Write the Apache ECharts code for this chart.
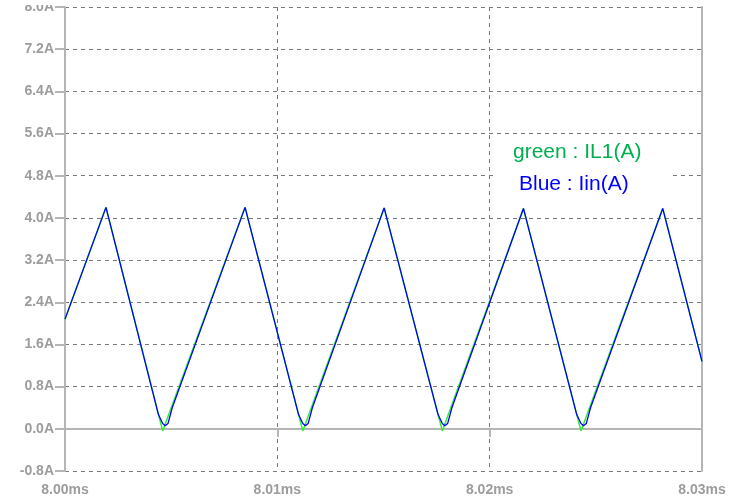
<!DOCTYPE html>
<html>
<head>
<meta charset="utf-8">
<script src="https://cdn.jsdelivr.net/npm/echarts@6/dist/echarts.min.js"></script>
<style>
  html, body { margin: 0; padding: 0; background: #fff; }
  #chart { width: 751px; height: 499px; }
</style>
</head>
<body>
<div id="chart"></div>
<script>
// Inductor current IL1 (green) and input current Iin (blue), time in ms, current in A
const il1Time = [8.00000, 8.00193, 8.00460, 8.00848, 8.01120, 8.01503, 8.01777, 8.02159, 8.02430, 8.02815, 8.03000];
const il1Amps = [2.08, 4.20, -0.04, 4.20, -0.04, 4.19, -0.04, 4.18, -0.04, 4.18, 1.28];

const iinTime = [8.00000, 8.00193,
  8.00440, 8.00460, 8.00472, 8.00485, 8.00505, 8.00848,
  8.01100, 8.01120, 8.01132, 8.01145, 8.01165, 8.01503,
  8.01757, 8.01777, 8.01789, 8.01802, 8.01822, 8.02159,
  8.02410, 8.02430, 8.02442, 8.02455, 8.02475, 8.02815, 8.03000];
const iinAmps = [2.08, 4.20,
  0.27, 0.10, 0.06, 0.10, 0.40, 4.20,
  0.27, 0.10, 0.06, 0.10, 0.40, 4.19,
  0.27, 0.10, 0.06, 0.10, 0.40, 4.18,
  0.27, 0.10, 0.06, 0.10, 0.40, 4.18, 1.28];

const legendLines = ['green : IL1(A)', 'Blue : Iin(A)'];

const pair = (xs, ys) => xs.map((x, i) => [x, ys[i]]);

const gray = '#b5b5b5';
const labelGray = '#9c9c9c';
const gridDash = { color: '#7a7a7a', type: [4, 4], width: 1 };
const labelFont = { color: labelGray, fontFamily: 'Liberation Sans, Arial, sans-serif', fontWeight: 'bold', fontSize: 14 };
const legendFont = '21px "Liberation Sans", Arial, sans-serif';

const chart = echarts.init(document.getElementById('chart'));
chart.setOption({
  animation: false,
  backgroundColor: '#fff',
  grid: { left: 65, right: 49, top: 7, bottom: 28 },
  xAxis: {
    type: 'value',
    min: 8.00, max: 8.03, interval: 0.01,
    axisLine: { show: true, lineStyle: { color: gray, width: 2 } },
    axisTick: { show: true, length: 8, lineStyle: { color: gray, width: 2 } },
    axisLabel: Object.assign({ margin: 12, formatter: v => v.toFixed(2) + 'ms', showMinLabel: true, showMaxLabel: true }, labelFont),
    splitLine: { show: true, lineStyle: gridDash }
  },
  yAxis: [{
    type: 'value',
    min: -0.8, max: 8.0, interval: 0.8,
    axisLine: { show: true, lineStyle: { color: gray, width: 2 } },
    axisTick: { show: true, length: 10, lineStyle: { color: gray, width: 2 } },
    axisLabel: Object.assign({ margin: 11, formatter: v => v.toFixed(1) + 'A' }, labelFont),
    splitLine: { show: true, lineStyle: gridDash }
  }, {
    type: 'value',
    position: 'right',
    min: -0.8, max: 8.0, interval: 0.8,
    axisLine: { show: true, lineStyle: { color: gray, width: 2 } },
    axisTick: { show: false },
    axisLabel: { show: false },
    splitLine: { show: false }
  }],
  series: [{
    name: 'IL1',
    type: 'line',
    data: pair(il1Time, il1Amps),
    showSymbol: false,
    lineStyle: { color: '#33ee33', width: 1.5 },
    z: 3
  }, {
    name: 'Iin',
    type: 'line',
    data: pair(iinTime, iinAmps),
    showSymbol: false,
    lineStyle: { color: '#0000ff', width: 1.3 },
    z: 4
  }],
  graphic: [{
    // top margin of the page sits over the upper tick label
    type: 'rect',
    shape: { x: 0, y: 0, width: 751, height: 5 },
    style: { fill: '#ffffff' },
    z: 20
  }, {
    type: 'rect',
    shape: { x: 497, y: 137, width: 176, height: 62 },
    style: { fill: '#ffffff' },
    z: 10
  }, {
    type: 'text',
    left: 513, top: 142,
    style: { text: legendLines[0], fill: '#00b050', font: legendFont },
    z: 11
  }, {
    type: 'text',
    left: 519, top: 174,
    style: { text: legendLines[1], fill: '#0000ff', font: legendFont },
    z: 11
  }]
});
</script>
</body>
</html>
